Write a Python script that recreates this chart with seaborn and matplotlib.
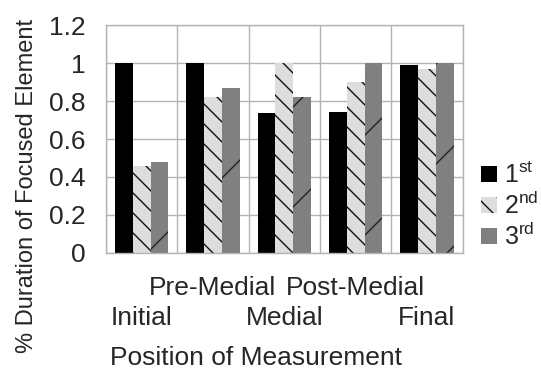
import numpy as np
import pandas as pd
import matplotlib
matplotlib.use("Agg")
import matplotlib.pyplot as plt
from matplotlib import hatch as mhatch
from matplotlib.patches import Patch
from matplotlib.transforms import ScaledTranslation
import seaborn as sns

# ---- data -------------------------------------------------------------
positions = ["Initial", "Pre-Medial", "Medial", "Post-Medial", "Final"]
series_names = ["1st", "2nd", "3rd"]
first = [1.00, 1.00, 0.735, 0.745, 0.99]
second = [0.46, 0.82, 1.00, 0.90, 0.97]
third = [0.48, 0.87, 0.82, 1.00, 1.00]
y_ticks = [0, 0.2, 0.4, 0.6, 0.8, 1.0, 1.2]
y_tick_labels = ["0", "0.2", "0.4", "0.6", "0.8", "1", "1.2"]
legend_labels = [r"1$^{\mathrm{st}}$", r"2$^{\mathrm{nd}}$", r"3$^{\mathrm{rd}}$"]

df = pd.DataFrame({
    "Position": positions * 3,
    "Order": [s for s in series_names for _ in positions],
    "Duration": first + second + third,
})


# ---- hatch densities: fine '\' strokes, very sparse '/' strokes --------
class FineBackslash(mhatch.SouthEastHatch):
    def __init__(self, hatch, density):
        self.num_lines = 10 * hatch.count("\\")
        self.num_vertices = (self.num_lines + 1) * 2 if self.num_lines else 0


class SparseSlash(mhatch.NorthEastHatch):
    def __init__(self, hatch, density):
        self.num_lines = 2 * hatch.count("/")
        self.num_vertices = (self.num_lines + 1) * 2 if self.num_lines else 0


for i, h in enumerate(mhatch._hatch_types):
    if h is mhatch.SouthEastHatch:
        mhatch._hatch_types[i] = FineBackslash
    elif h is mhatch.NorthEastHatch:
        mhatch._hatch_types[i] = SparseSlash

# ---- style ---------------------------------------------------------------
sns.set_style("white")
plt.rcParams["font.family"] = ["Liberation Sans", "DejaVu Sans"]
plt.rcParams["mathtext.fontset"] = "custom"
plt.rcParams["mathtext.rm"] = "Liberation Sans"
plt.rcParams["mathtext.it"] = "Liberation Sans:italic"
plt.rcParams["mathtext.bf"] = "Liberation Sans:bold"
plt.rcParams["hatch.linewidth"] = 1.0

grid_color = "#b3b3b3"
colors = ["#000000", "#dddddd", "#808080"]
hatch_styles = ["", "\\", "/"]
hatch_colors = ["#000000", "#111111", "#222222"]

fig = plt.figure(figsize=(5.41, 3.69), dpi=100)
ax = fig.add_axes([0.196, 0.315, 0.659, 0.6165])

sns.barplot(data=df, x="Position", y="Duration", hue="Order",
            order=positions, hue_order=series_names, palette=colors,
            saturation=1, width=0.75, errorbar=None, legend=False, ax=ax)

for cont, hs, hc in zip(ax.containers, hatch_styles, hatch_colors):
    for bar in cont:
        bar.set_hatch(hs if hs else None)
        bar.set_edgecolor(hc)
        bar.set_linewidth(0)

# ---- axes ----------------------------------------------------------------
ax.set_axisbelow(True)
ax.set_xlim(-0.5, len(positions) - 0.5)
ax.set_ylim(0, 1.2)
ax.set_yticks(y_ticks)
ax.set_yticklabels(y_tick_labels, fontsize=19)

# boundaries between categories carry the vertical grid and tick marks
ax.set_xticks(np.arange(len(positions) + 1) - 0.5)
ax.set_xticklabels([])
ax.set_xticks(np.arange(len(positions)), minor=True)
ax.set_xticklabels(positions, minor=True, fontsize=19)
ax.tick_params(axis="x", which="minor", length=0, pad=16.5)
ax.tick_params(axis="x", which="major", length=7.5, width=1, color=grid_color)
ax.tick_params(axis="y", which="major", length=8, width=1, color=grid_color, pad=7)

# stagger the category names on two rows so they do not collide
drop = ScaledTranslation(0, -0.30, fig.dpi_scale_trans)
for i, lab in enumerate(ax.get_xticklabels(minor=True)):
    if i % 2 == 0:
        lab.set_transform(lab.get_transform() + drop)

ax.grid(True, which="major", color=grid_color, linewidth=1)
for sp in ax.spines.values():
    sp.set_color(grid_color)
    sp.set_linewidth(1)

ax.set_xlabel("Position of Measurement", fontsize=19)
ax.xaxis.set_label_coords(0.42, -0.412)
ax.set_ylabel("% Duration of Focused Element", fontsize=17)
ax.yaxis.set_label_coords(-0.192, 0.293)

handles = [Patch(facecolor=colors[0], edgecolor=colors[0], linewidth=0),
           Patch(facecolor=colors[1], edgecolor="#111111", hatch="\\", linewidth=0),
           Patch(facecolor=colors[2], edgecolor=colors[2], linewidth=0)]
fig.legend(handles, legend_labels, loc="center left",
           bbox_to_anchor=(480.5 / 541, 1 - 206.0 / 369),
           frameon=False, fontsize=18, handlelength=0.64, handleheight=0.64,
           handletextpad=0.3, labelspacing=0.16, borderpad=0, borderaxespad=0)

fig.savefig("out.png", dpi=100)
